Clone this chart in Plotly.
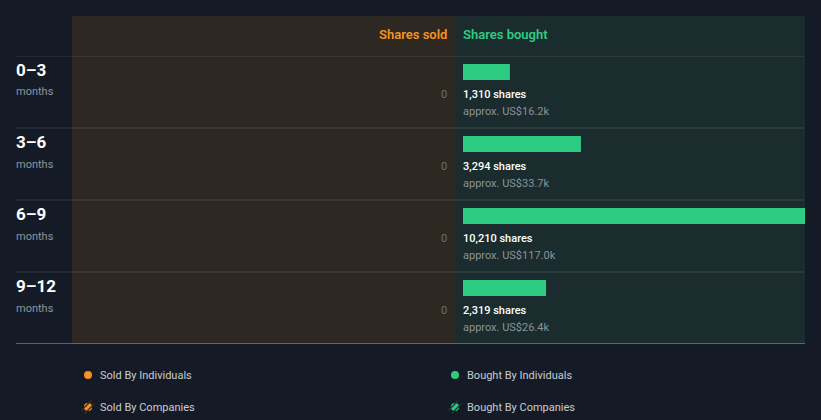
import plotly.graph_objects as go

# ---- data ----
periods = ["0–3", "3–6", "6–9", "9–12"]
period_unit = ["months", "months", "months", "months"]
shares_sold = [0, 0, 0, 0]
shares_bought = [1310, 3294, 10210, 2319]
bought_value = ["approx. US$16.2k", "approx. US$33.7k", "approx. US$117.0k", "approx. US$26.4k"]
legend_labels = ["Sold By Individuals", "Sold By Companies", "Bought By Individuals", "Bought By Companies"]

W, H = 821, 420
BG = "#151b26"
SOLD_BG = "#2d2822"
BOUGHT_BG = "#1a2c2e"
GREEN = "#2ecc82"
ORANGE = "#f7931e"
FONT = "Roboto"


def px(x):
    return x / W


def py(y):
    return 1 - y / H


fig = go.Figure()

rows = list(range(len(periods)))

# bought bars
fig.add_trace(go.Bar(
    y=[r + 0.222 for r in rows], x=shares_bought, orientation="h",
    width=0.222, marker=dict(color=GREEN, line=dict(width=0)),
    xaxis="x2", yaxis="y", hoverinfo="skip", showlegend=False,
))
# sold bars (zero)
fig.add_trace(go.Bar(
    y=[r + 0.222 for r in rows], x=shares_sold, orientation="h",
    width=0.222, marker=dict(color=ORANGE, line=dict(width=0)),
    xaxis="x", yaxis="y", hoverinfo="skip", showlegend=False,
))

shapes = []
# panels
shapes.append(dict(type="rect", xref="paper", yref="paper", x0=px(72), x1=px(455), y0=py(343.5), y1=py(16),
                   fillcolor=SOLD_BG, line=dict(width=0), layer="below"))
shapes.append(dict(type="rect", xref="paper", yref="paper", x0=px(455), x1=px(805), y0=py(343.5), y1=py(16),
                   fillcolor=BOUGHT_BG, line=dict(width=0), layer="below"))
# row separators
for r in rows:
    shapes.append(dict(type="line", xref="paper", yref="y", x0=px(16), x1=px(805), y0=r, y1=r,
                       line=dict(color="rgba(255,255,255,0.14)", width=1), layer="above"))
shapes.append(dict(type="line", xref="paper", yref="y", x0=px(16), x1=px(805), y0=len(rows), y1=len(rows),
                   line=dict(color="#a3abab", width=1), layer="above"))

annotations = []
# headers
annotations.append(dict(text="Shares sold", xref="paper", yref="paper", x=px(447), y=py(34),
                        xanchor="right", yanchor="middle", showarrow=False, xshift=2,
                        font=dict(family=FONT, size=13, color=ORANGE, weight=600)))
annotations.append(dict(text="Shares bought", xref="paper", yref="paper", x=px(463), y=py(34),
                        xanchor="left", yanchor="middle", showarrow=False, xshift=-2,
                        font=dict(family=FONT, size=13, color=GREEN, weight=600)))

for r in rows:
    annotations.append(dict(text=periods[r], xref="paper", yref="y", x=px(16), y=r + 0.2,
                            xanchor="left", yanchor="middle", showarrow=False, xshift=-2,
                            font=dict(family=FONT, size=17, color="#ffffff", weight=700)))
    annotations.append(dict(text=period_unit[r], xref="paper", yref="y", x=px(16), y=r + 0.5,
                            xanchor="left", yanchor="middle", showarrow=False, xshift=-2,
                            font=dict(family=FONT, size=11, color="#8f959b")))
    annotations.append(dict(text=f"{shares_sold[r]:,}", xref="x", yref="y", x=0, y=r + 0.528,
                            xanchor="right", yanchor="middle", showarrow=False, xshift=2,
                            font=dict(family=FONT, size=11, color="#6d6e70")))
    annotations.append(dict(text=f"{shares_bought[r]:,} shares", xref="x2", yref="y", x=0, y=r + 0.528,
                            xanchor="left", yanchor="middle", showarrow=False, xshift=-2,
                            font=dict(family=FONT, size=11, color="#ffffff", weight=500)))
    annotations.append(dict(text=bought_value[r], xref="x2", yref="y", x=0, y=r + 0.775,
                            xanchor="left", yanchor="middle", showarrow=False, xshift=-2,
                            font=dict(family=FONT, size=11, color="#8b9396")))

# legend
legend_pos = [(88, 375), (88, 407), (455, 375), (455, 407)]
legend_colors = [ORANGE, ORANGE, GREEN, GREEN]
for i, lab in enumerate(legend_labels):
    cx, cy = legend_pos[i]
    annotations.append(dict(text=lab, xref="paper", yref="paper", x=px(cx + 12), y=py(cy),
                            xanchor="left", yanchor="middle", showarrow=False, xshift=-2,
                            font=dict(family=FONT, size=11, color="#c9ccd0")))
    rr = 4
    shapes.append(dict(type="circle", xref="paper", yref="paper", x0=px(cx - rr), x1=px(cx + rr),
                       y0=py(cy + rr), y1=py(cy - rr), fillcolor=legend_colors[i], line=dict(width=0)))
    if i % 2 == 1:
        for d in (-1.6, 1.6):
            shapes.append(dict(type="line", xref="paper", yref="paper",
                               x0=px(cx - 5 + d), y0=py(cy + 5 + d),
                               x1=px(cx + 5 + d), y1=py(cy - 5 + d),
                               line=dict(color="#3a2e22" if i == 1 else "#1b3a30", width=1.4)))

scale = 0.0358  # px per share
fig.update_layout(
    width=W, height=H, margin=dict(l=0, r=0, t=0, b=0),
    paper_bgcolor=BG, plot_bgcolor="rgba(0,0,0,0)",
    showlegend=False, barmode="overlay", hovermode=False,
    xaxis=dict(domain=[px(72), px(455)], range=[(447 - 72) / scale, -8 / scale],
               visible=False, fixedrange=True),
    xaxis2=dict(domain=[px(455), px(805)], range=[-8 / scale, (805 - 463) / scale],
                visible=False, fixedrange=True),
    yaxis=dict(domain=[py(344), py(56)], range=[len(rows), 0], visible=False, fixedrange=True),
    shapes=shapes, annotations=annotations,
)

fig.write_html("out.html", config={"displayModeBar": False})
